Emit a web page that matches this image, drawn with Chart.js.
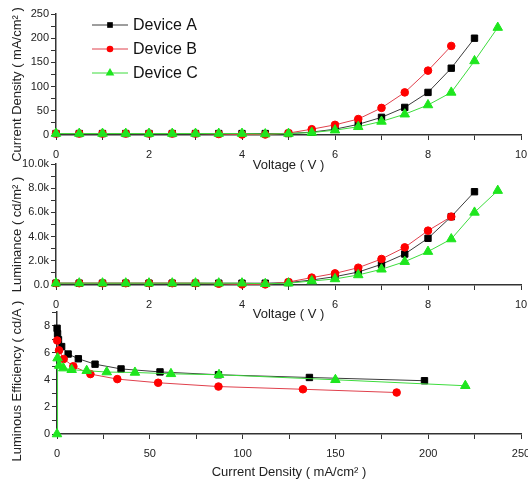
<!DOCTYPE html>
<html>
<head>
<meta charset="utf-8">
<script src="https://cdn.jsdelivr.net/npm/chart.js@4.4.0/dist/chart.umd.min.js"></script>
<style>
  body { margin: 0; background: #fff; }
  #wrap { position: relative; width: 528px; height: 484px; overflow: hidden; }
  canvas { position: absolute; left: 0; }
</style>
</head>
<body>
<div id="wrap">
  <canvas id="jv" width="528" height="175" style="top:0px"></canvas>
  <canvas id="lv" width="528" height="175" style="top:150px"></canvas>
  <canvas id="eff" width="528" height="186" style="top:298px"></canvas>
</div>
<script>
// values
const voltage = [0, 0.5, 1, 1.5, 2, 2.5, 3, 3.5, 4, 4.5, 5, 5.5, 6, 6.5, 7, 7.5, 8, 8.5, 9, 9.5];
const labels = ['Device A', 'Device B', 'Device C'];

// current density (mA/cm2) vs voltage
const currentA = [3, 3, 3, 3, 3, 3, 3, 3, 3, 3, 3, 6, 12, 22, 36.5, 57, 88, 138, 200];
const currentB = [3, 3, 3, 3, 3, 3, 3, 2, 1, 1, 4, 12, 21, 33, 56, 88, 133, 184];
const currentC = [3, 3, 3, 3, 3, 3, 3, 3, 3, 2, 3, 5, 10, 17, 28, 43, 62, 88, 153, 222];

// luminance (cd/m2) vs voltage
const lumA = [150, 150, 150, 150, 150, 150, 150, 150, 150, 150, 200, 413, 690, 1070, 1710, 2560, 3860, 5650, 7710];
const lumB = [150, 150, 150, 150, 150, 150, 150, 100, 50, 50, 250, 610, 960, 1430, 2150, 3110, 4490, 5650];
const lumC = [150, 150, 150, 150, 150, 150, 150, 150, 150, 100, 150, 330, 500, 830, 1300, 1930, 2760, 3800, 6000, 7800];

// luminous efficiency (cd/A) vs current density
const effCdA = [0.05, 0.3, 0.8, 2.5, 6, 11.5, 20.5, 34.5, 55.5, 87, 136, 198];
const effA = [7.8, 7.4, 6.95, 6.45, 5.9, 5.55, 5.15, 4.8, 4.58, 4.37, 4.17, 3.93];
const effCdB = [0.1, 1.1, 3.6, 8.8, 18, 32.5, 54.5, 87, 132.5, 183];
const effB = [6.9, 6.17, 5.53, 5.0, 4.42, 4.05, 3.78, 3.5, 3.3, 3.06];
const effCdC = [0, 0.3, 1.2, 3.4, 7.9, 16, 26.8, 42, 61.4, 87.3, 150, 220];
const effC = [0, 5.6, 5.05, 4.86, 4.74, 4.67, 4.57, 4.54, 4.44, 4.37, 4.0, 3.56];

Chart.defaults.font.family = '"Liberation Sans", Arial, sans-serif';
Chart.defaults.color = '#222';

const looks = [
  { borderColor: '#3c3c3c', pointBackgroundColor: '#000', pointBorderColor: '#000', pointStyle: 'rect', pointRadius: 4.5, order: 3 },
  { borderColor: '#e0404c', pointBackgroundColor: '#f00', pointBorderColor: '#f00', pointStyle: 'circle', pointRadius: 3.8, order: 2 },
  { borderColor: '#3ddc3d', pointBackgroundColor: '#1ee61e', pointBorderColor: '#1ee61e', pointStyle: 'triangle', pointRadius: 5.5, order: 1 }
];

function pts(xs, ys) {
  return ys.map((y, i) => ({ x: xs[i], y: y }));
}

function series(i, xs, ys) {
  return Object.assign({
    label: labels[i],
    data: pts(xs, ys),
    borderWidth: 1,
    pointBorderWidth: 1,
    tension: 0,
    clip: false
  }, looks[i]);
}

// axis titles placed like the original figure
const axisTitles = {
  id: 'axisTitles',
  afterDraw(chart, args, opts) {
    const ctx = chart.ctx, a = chart.chartArea;
    ctx.save();
    ctx.fillStyle = '#222';
    ctx.font = '13px "Liberation Sans", Arial, sans-serif';
    ctx.textAlign = 'center';
    ctx.textBaseline = 'middle';
    ctx.fillText(opts.xText, (a.left + a.right) / 2, a.bottom + opts.xOffset);
    ctx.translate(17, (a.top + a.bottom) / 2 + opts.yShift);
    ctx.rotate(-Math.PI / 2);
    ctx.fillText(opts.yText, 0, 0);
    ctx.restore();
  }
};

function marker(ctx, style, r, x, y) {
  ctx.beginPath();
  if (style === 'rect') {
    const s = r * Math.SQRT1_2;
    ctx.rect(x - s, y - s, 2 * s, 2 * s);
  } else if (style === 'circle') {
    ctx.arc(x, y, r, 0, Math.PI * 2);
  } else {
    ctx.moveTo(x, y - r);
    ctx.lineTo(x + r * 0.866, y + r * 0.5);
    ctx.lineTo(x - r * 0.866, y + r * 0.5);
    ctx.closePath();
  }
  ctx.fill();
}

// legend with line + symbol inside the top panel
const insideLegend = {
  id: 'insideLegend',
  afterDraw(chart, args, opts) {
    if (!opts.show) return;
    const ctx = chart.ctx;
    chart.data.datasets.forEach((ds, i) => {
      const y = opts.top + i * opts.gap;
      ctx.save();
      ctx.strokeStyle = ds.borderColor;
      ctx.lineWidth = 1;
      ctx.beginPath();
      ctx.moveTo(opts.left, y);
      ctx.lineTo(opts.left + 36, y);
      ctx.stroke();
      ctx.fillStyle = ds.pointBackgroundColor;
      marker(ctx, ds.pointStyle, ds.pointRadius - 0.5, opts.left + 18, y);
      ctx.fillStyle = '#111';
      ctx.font = '16px "Liberation Sans", Arial, sans-serif';
      ctx.textBaseline = 'middle';
      ctx.fillText(ds.label, opts.left + 41, y + 1);
      ctx.restore();
    });
  }
};

function xAxis(max, step, every, height) {
  return {
    type: 'linear', min: 0, max: max,
    ticks: {
      stepSize: step, padding: 8, autoSkip: false, maxRotation: 0,
      font: { size: 11 },
      callback: v => (v % every === 0 ? String(v) : '')
    },
    grid: { drawOnChartArea: false, tickLength: 5, color: '#333' },
    border: { color: '#333', width: 1.5 },
    afterFit: s => { s.height = height; s.paddingLeft = 0; s.paddingRight = 0; }
  };
}

function yAxis(max, step, every, width, fmt) {
  return {
    type: 'linear', min: 0, max: max,
    ticks: {
      stepSize: step, padding: 2, autoSkip: false,
      font: { size: 11 },
      callback: v => (v % every === 0 ? fmt(v) : '')
    },
    grid: { drawOnChartArea: false, tickLength: 5, color: '#333' },
    border: { color: '#333', width: 1.5 },
    afterFit: s => { s.width = width; s.paddingTop = 0; s.paddingBottom = 0; }
  };
}

function panel(id, datasets, xs, ys, titles, legend) {
  return new Chart(document.getElementById(id), {
    type: 'line',
    data: { datasets: datasets },
    options: {
      responsive: false,
      animation: false,
      layout: { padding: { left: 0, right: 7, top: 14, bottom: 0 } },
      scales: { x: xs, y: ys },
      plugins: {
        legend: { display: false },
        tooltip: { enabled: false },
        axisTitles: titles,
        insideLegend: { show: legend, left: 92, top: 25, gap: 24 }
      }
    },
    plugins: [axisTitles, insideLegend]
  });
}

panel('jv',
  [series(0, voltage, currentA), series(1, voltage, currentB), series(2, voltage, currentC)],
  xAxis(10, 1, 2, 40),
  yAxis(250, 25, 50, 56, v => String(v)),
  { xText: 'Voltage ( V )', xOffset: 30, yText: 'Current Density ( mA/cm\u00b2 )', yShift: 10 },
  true);

panel('lv',
  [series(0, voltage, lumA), series(1, voltage, lumB), series(2, voltage, lumC)],
  xAxis(10, 1, 2, 40),
  yAxis(10000, 1000, 2000, 56, v => (v === 0 ? '0.0' : (v / 1000).toFixed(1) + 'k')),
  { xText: 'Voltage ( V )', xOffset: 29, yText: 'Luminance ( cd/m\u00b2 )', yShift: 10 },
  false);

panel('eff',
  [series(0, effCdA, effA), series(1, effCdB, effB), series(2, effCdC, effC)],
  xAxis(250, 25, 50, 50),
  yAxis(9, 1, 2, 57, v => String(v)),
  { xText: 'Current Density ( mA/cm\u00b2 )', xOffset: 38, yText: 'Luminous Efficiency ( cd/A )', yShift: 8 },
  false);
</script>
</body>
</html>
